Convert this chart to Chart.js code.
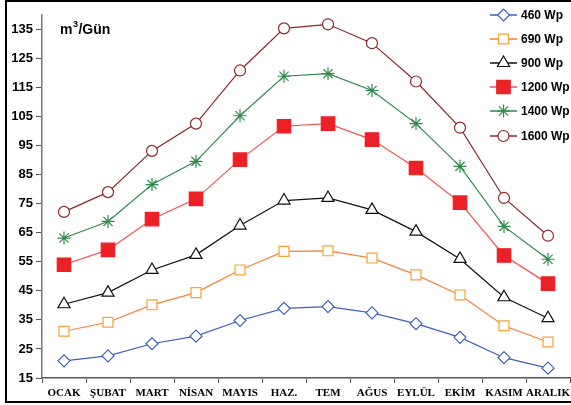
<!DOCTYPE html>
<html>
<head>
<meta charset="utf-8">
<script src="https://cdn.jsdelivr.net/npm/chart.js@4.4.0/dist/chart.umd.min.js"></script>
<style>
  html,body{margin:0;padding:0;background:#fff;}
  #wrap{width:571px;height:405px;position:relative;}
</style>
</head>
<body>
<div id="wrap"><canvas id="chart" width="571" height="405"></canvas></div>
<script>
// aylar ve seriler (m3/gün)
const months=["OCAK","ŞUBAT","MART","NİSAN","MAYIS","HAZ.","TEM","AĞUS","EYLÜL","EKİM","KASIM","ARALIK"];
const seriesNames=["460 Wp","690 Wp","900 Wp","1200 Wp","1400 Wp","1600 Wp"];
const wp460=[20.9,22.6,26.8,29.4,34.8,39.0,39.6,37.4,33.7,29.0,22.0,18.4];
const wp690=[31.1,34.2,40.2,44.4,52.2,58.6,58.8,56.3,50.5,43.6,33.0,27.4];
const wp900=[40.4,44.4,52.2,57.4,67.5,76.1,77.0,72.9,65.4,56.0,42.8,35.6];
const wp1200=[54.0,59.1,69.7,76.7,90.2,101.7,102.6,97.1,87.3,75.4,57.2,47.5];
const wp1400=[63.2,68.9,81.6,89.6,105.3,118.9,119.8,114.0,102.6,87.9,67.2,55.9];
const wp1600=[72.2,79.0,93.2,102.6,120.9,135.4,136.8,130.3,117.1,101.2,77.0,64.0];
const yTicks=[15,25,35,45,55,65,75,85,95,105,115,125,135];

const ctx=document.getElementById("chart");

const mkSet=(label,data,line,point,fill,style,radius)=>({
    label:label,
    data:data,
    borderColor:line,
    borderWidth:1.2,
    pointStyle:style,
    pointRadius:radius,
    pointBorderColor:point,
    pointBackgroundColor:fill,
    pointBorderWidth:1.2,
    tension:0,
    fill:false
});

//frame + title + legend drawn on top
const extras={
    id:"extras",
    afterDraw(chart){
        const c=chart.ctx;
        c.save();
        c.strokeStyle="#000";
        c.lineWidth=2;
        c.strokeRect(6,1,570,401);

        c.fillStyle="#000";
        c.textBaseline="alphabetic";
        c.font="bold 14px 'Liberation Sans', Arial";
        c.fillText("m",60,34);
        let x=60+c.measureText("m").width;
        c.font="bold 9px 'Liberation Sans', Arial";
        c.fillText("3",x+0.5,27);
        x+=c.measureText("3").width+1;
        c.font="bold 14px 'Liberation Sans', Arial";
        c.fillText("/Gün",x,34);

        const rows=[15,39,63,87,111,136];
        chart.data.datasets.forEach((ds,i)=>{
            const y=rows[i];
            c.strokeStyle=ds.borderColor;
            c.lineWidth=1.5;
            c.beginPath();
            c.moveTo(490,y);
            c.lineTo(517,y);
            c.stroke();
            c.strokeStyle=ds.pointBorderColor;
            c.fillStyle=ds.pointBackgroundColor;
            c.lineWidth=1.2;
            Chart.helpers.drawPoint(c,{pointStyle:ds.pointStyle,radius:ds.pointRadius,borderWidth:1.2},503.5,y);
            c.fillStyle="#000";
            c.font="bold 12px 'Liberation Sans', Arial";
            c.textBaseline="middle";
            c.fillText(ds.label,521,y+1);
        });
        c.restore();
    }
};

let solarChart=new Chart(ctx,{
    type:"line",
    data:{
        labels:months,
        datasets:[
            mkSet(seriesNames[0],wp460,"#3f62b8","#3f62b8","#fff","rectRot",6),
            mkSet(seriesNames[1],wp690,"#f5813a","#f5a236","#fff","rect",7),
            mkSet(seriesNames[2],wp900,"#111","#111","#fff","triangle",7),
            mkSet(seriesNames[3],wp1200,"#f45050","#ec2027","#ec2027","rect",9.5),
            mkSet(seriesNames[4],wp1400,"#2f8a4c","#2f8a4c","#2f8a4c","star",6.5),
            mkSet(seriesNames[5],wp1600,"#8a2a2a","#8a2a2a","#fff","circle",5.5)
        ]
    },
    options:{
        responsive:false,
        animation:false,
        layout:{autoPadding:false,padding:{top:15,right:1,left:0,bottom:0}},
        plugins:{legend:{display:false},tooltip:{enabled:false},title:{display:false}},
        scales:{
            x:{
                offset:true,
                grid:{display:true,drawOnChartArea:false,offset:true,tickLength:5,color:"#555"},
                border:{color:"#555",width:1.5},
                ticks:{color:"#000",font:{family:"'Liberation Serif', 'Times New Roman'",weight:"bold",size:11},padding:4,maxRotation:0,autoSkip:false},
                afterFit(scale){scale.height=27;scale.paddingLeft=0;scale.paddingRight=0;}
            },
            y:{
                min:15,
                max:140,
                grid:{display:true,drawOnChartArea:false,tickLength:6,color:"#555"},
                border:{color:"#777",width:1.5},
                ticks:{color:"#000",font:{family:"'Liberation Sans', Arial",weight:"bold",size:13},padding:3},
                afterBuildTicks(scale){scale.ticks=yTicks.map(v=>({value:v}));},
                afterFit(scale){scale.width=42;}
            }
        }
    },
    plugins:[extras]
});
</script>
</body>
</html>
